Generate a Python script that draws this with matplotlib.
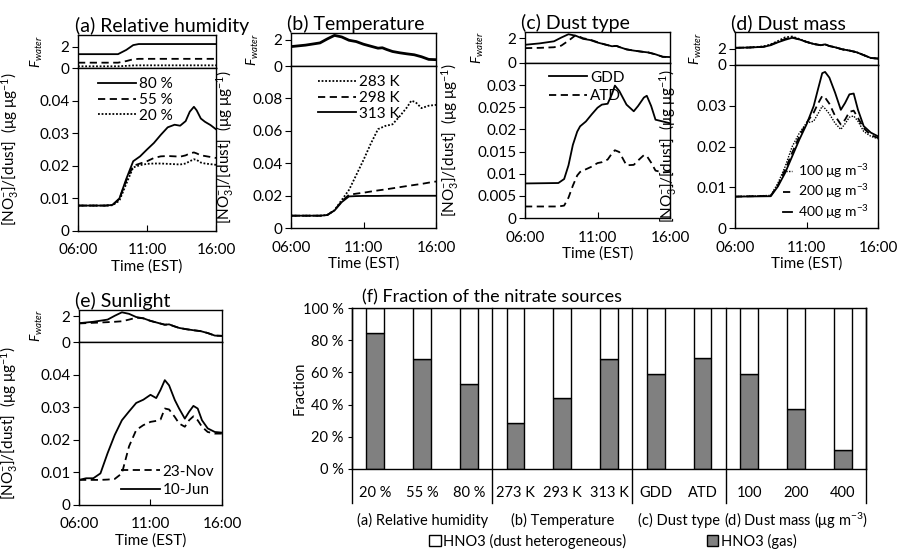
import numpy as np
import matplotlib
matplotlib.use("Agg")
import matplotlib.pyplot as plt
from matplotlib.patches import Patch

plt.rcParams['font.family'] = ['Lato', 'DejaVu Sans']
plt.rcParams['font.size'] = 11
plt.rcParams['mathtext.fontset'] = 'custom'
plt.rcParams['mathtext.rm'] = 'Lato'
plt.rcParams['mathtext.it'] = 'Lato:italic'

W, H = 900, 549

# ---- data ----
# common F_water curve (b, c GDD, e 10-Jun)
t_f = [6, 7, 8, 8.5, 9, 9.5, 10, 10.5, 11, 11.5, 12, 12.3, 12.6, 13, 13.5, 14, 14.5, 15, 15.5, 16]
fw = [1.47, 1.58, 1.75, 2.05, 2.32, 2.2, 1.95, 1.85, 1.65, 1.5, 1.35, 1.38, 1.25, 1.1, 1.0, 0.92, 0.85, 0.7, 0.5, 0.48]
fw_atd = [1.2, 1.22, 1.27, 1.4, 1.8, 2.25, 2.0, 1.88, 1.68, 1.5, 1.35, 1.38, 1.25, 1.1, 1.0, 0.92, 0.85, 0.7, 0.5, 0.48]
fw_nov = [1.45, 1.5, 1.55, 1.58, 1.62, 1.75, 1.9, 1.85, 1.65, 1.5, 1.35, 1.38, 1.25, 1.1, 1.0, 0.92, 0.85, 0.7, 0.5, 0.48]
fw_d400 = [2.08, 2.12, 2.2, 2.4, 2.75, 3.05, 3.3, 3.1, 2.8, 2.55, 2.4, 2.5, 2.3, 2.15, 1.9, 1.75, 1.55, 1.2, 0.85, 0.78]
fw_d200 = [2.08, 2.12, 2.22, 2.45, 2.82, 3.15, 3.35, 3.1, 2.8, 2.55, 2.4, 2.5, 2.3, 2.15, 1.9, 1.75, 1.55, 1.2, 0.85, 0.78]
fw_d100 = [2.08, 2.12, 2.25, 2.5, 2.9, 3.35, 3.45, 3.15, 2.8, 2.55, 2.4, 2.5, 2.3, 2.15, 1.9, 1.75, 1.55, 1.2, 0.85, 0.78]

# (a) relative humidity
t_fa = [6, 8.9, 9.5, 10.0, 10.4, 16]
fw_rh80 = [1.3, 1.3, 1.7, 2.15, 2.25, 2.25]
fw_rh55 = [0.5, 0.5, 0.65, 0.82, 0.86, 0.86]
fw_rh20 = [0.16, 0.16, 0.2, 0.24, 0.25, 0.25]
t_a = [6, 8.0, 8.5, 9.0, 9.5, 10.0, 10.5, 11.0, 11.5, 12.0, 12.5, 13.0, 13.4, 13.8, 14.1, 14.4, 14.6, 14.9, 15.2, 15.6, 16.0]
rh80 = [0.0078, 0.0078, 0.0080, 0.0100, 0.0160, 0.0214, 0.0229, 0.0250, 0.0270, 0.0295, 0.0318, 0.0326, 0.0323, 0.0337, 0.0366, 0.0381, 0.0370, 0.0345, 0.0335, 0.0325, 0.0312]
rh55 = [0.0078, 0.0078, 0.0080, 0.0098, 0.0155, 0.0200, 0.0207, 0.0214, 0.0224, 0.0229, 0.0230, 0.0229, 0.0228, 0.0232, 0.0238, 0.0241, 0.0238, 0.0232, 0.0230, 0.0227, 0.0224]
rh20 = [0.0078, 0.0078, 0.0079, 0.0093, 0.0145, 0.0195, 0.0202, 0.0206, 0.0207, 0.0207, 0.0206, 0.0205, 0.0204, 0.0207, 0.0214, 0.0220, 0.0218, 0.0210, 0.0207, 0.0205, 0.0203]

# (b) temperature
t_b = [6, 8.0, 8.5, 9.0, 9.5, 10.0, 10.5, 11.0, 11.5, 12.0, 12.5, 13.0, 13.5, 14.0, 14.3, 14.6, 15.0, 15.5, 16.0]
k283 = [0.0076, 0.0076, 0.0080, 0.0110, 0.0173, 0.0235, 0.0327, 0.0420, 0.0520, 0.0610, 0.0630, 0.0640, 0.0690, 0.0745, 0.0786, 0.0776, 0.0740, 0.0755, 0.0760]
k298 = [0.0076, 0.0076, 0.0080, 0.0110, 0.0165, 0.0205, 0.0212, 0.0218, 0.0225, 0.0232, 0.0238, 0.0245, 0.0252, 0.0259, 0.0263, 0.0267, 0.0272, 0.0280, 0.0287]
k313 = [0.0076, 0.0076, 0.0080, 0.0108, 0.0160, 0.0195, 0.0197, 0.0198, 0.0198, 0.0198, 0.0199, 0.0199, 0.0199, 0.0199, 0.0199, 0.0199, 0.0199, 0.0199, 0.0199]

# (c) dust type
t_c = [6, 8.3, 8.7, 9.0, 9.3, 9.6, 9.8, 10.2, 10.6, 11.0, 11.3, 11.7, 12.0, 12.2, 12.5, 13.0, 13.5, 13.8, 14.2, 14.4, 14.7, 15.0, 15.5, 16.0]
gdd = [0.0078, 0.0079, 0.0088, 0.0119, 0.0165, 0.0195, 0.0207, 0.0218, 0.0234, 0.0249, 0.0256, 0.0258, 0.0280, 0.0299, 0.0287, 0.0256, 0.0241, 0.0253, 0.0272, 0.0276, 0.0253, 0.0222, 0.0218, 0.0214]
atd = [0.0026, 0.0026, 0.0028, 0.0046, 0.0073, 0.0096, 0.0104, 0.0110, 0.0116, 0.0124, 0.0126, 0.0132, 0.0146, 0.0153, 0.0149, 0.0119, 0.0120, 0.0130, 0.0142, 0.0140, 0.0125, 0.0107, 0.0103, 0.0104]

# (d) dust mass
t_d = [6, 8.5, 9.0, 9.5, 10.0, 10.5, 11.0, 11.5, 11.8, 12.1, 12.3, 12.6, 13.0, 13.4, 13.7, 14.0, 14.3, 14.6, 15.0, 15.5, 16.0]
m400 = [0.0077, 0.0078, 0.0102, 0.0135, 0.0176, 0.0217, 0.0254, 0.0299, 0.0340, 0.0380, 0.0383, 0.0369, 0.0332, 0.0290, 0.0307, 0.0328, 0.0330, 0.0290, 0.0250, 0.0234, 0.0225]
m200 = [0.0077, 0.0079, 0.0105, 0.0142, 0.0185, 0.0225, 0.0258, 0.0283, 0.0305, 0.0324, 0.0320, 0.0305, 0.0275, 0.0254, 0.0266, 0.0285, 0.0288, 0.0270, 0.0245, 0.0228, 0.0221]
m100 = [0.0077, 0.0080, 0.0110, 0.0150, 0.0200, 0.0233, 0.0258, 0.0262, 0.0280, 0.0299, 0.0293, 0.0280, 0.0257, 0.0242, 0.0256, 0.0272, 0.0275, 0.0262, 0.0237, 0.0225, 0.0219]

# (e) sunlight
t_e = [6, 6.5, 7.0, 7.5, 8.0, 8.5, 9.0, 9.5, 10.0, 10.5, 11.0, 11.4, 11.7, 12.0, 12.3, 12.7, 13.0, 13.4, 13.7, 14.0, 14.3, 14.6, 15.0, 15.5, 16.0]
jun = [0.0077, 0.0082, 0.0082, 0.0097, 0.0159, 0.0215, 0.0260, 0.0287, 0.0313, 0.0323, 0.0338, 0.0328, 0.0353, 0.0383, 0.0367, 0.0322, 0.0296, 0.0265, 0.0286, 0.0304, 0.0296, 0.0260, 0.0235, 0.0224, 0.0222]
nov = [0.0077, 0.0077, 0.0077, 0.0077, 0.0078, 0.0080, 0.0097, 0.0180, 0.0230, 0.0245, 0.0255, 0.0258, 0.0262, 0.0296, 0.0293, 0.0270, 0.0250, 0.0240, 0.0260, 0.0272, 0.0260, 0.0240, 0.0224, 0.0219, 0.0219]

# (f) fraction of nitrate sources
bar_labels = ['20 %', '55 %', '80 %', '273 K', '293 K', '313 K', 'GDD', 'ATD', '100', '200', '400']
gas_frac = [84.5, 68.5, 53, 28.5, 44, 68.5, 59, 69, 59, 37, 12]
group_labels = ['(a) Relative humidity', '(b) Temperature', '(c) Dust type', '(d) Dust mass (μg m$^{-3}$)']
group_sizes = [3, 3, 2, 3]

SOLID = '-'
DASH = (0, (4, 2.5))
DOT = (0, (1, 1))
LW = 1.3
TICK = 11

fig = plt.figure(figsize=(9, 5.49), dpi=100)


def add_px(x0, y0, x1, y1):
    return fig.add_axes([x0 / W, 1 - y1 / H, (x1 - x0) / W, (y1 - y0) / H])


def fmt(v):
    return ('%.3f' % v).rstrip('0').rstrip('.')


def panel(x0, x1, ytop, ymid, ybot, title, fmax, ymax, yticks, lablx):
    axf = add_px(x0, ytop, x1, ymid)
    ax = add_px(x0, ymid, x1, ybot)
    axf.set_xlim(6, 16)
    axf.set_ylim(0, fmax)
    axf.set_xticks([])
    axf.set_yticks([0, 2])
    axf.tick_params(axis='y', direction='out', length=4, labelsize=TICK, pad=2)
    axf.set_ylabel('$F_{water}$', fontsize=10)
    axf.yaxis.set_label_coords(lablx + 0.17, 0.5)
    axf.set_title(title, loc='left', fontsize=14, pad=1, x=-0.025)
    ax.set_xlim(6, 16)
    ax.set_ylim(0, ymax)
    ax.set_yticks(yticks)
    ax.set_yticklabels([fmt(v) for v in yticks])
    ax.set_xticks([6, 11, 16])
    ax.set_xticklabels(['06:00', '11:00', '16:00'])
    ax.tick_params(axis='x', direction='in', length=4, labelsize=TICK, pad=9)
    ax.tick_params(axis='y', direction='out', length=4, labelsize=TICK, pad=2)
    ax.set_xlabel('Time (EST)', fontsize=11, labelpad=1)
    ax.set_ylabel('[NO$_3^{-}$]/[dust]  (μg μg$^{-1}$)', fontsize=11)
    ax.yaxis.set_label_coords(lablx, 0.5)
    for a in (axf, ax):
        for s in a.spines.values():
            s.set_linewidth(1.0)
    return axf, ax


leg_kw = dict(frameon=False, handletextpad=0.2, labelspacing=0.12, fontsize=11)

# (a)
axf, ax = panel(78, 216, 35, 68, 231, '(a) Relative humidity', 3.1, 0.05, [0, 0.01, 0.02, 0.03, 0.04], -0.41)
axf.plot(t_fa, fw_rh80, color='k', ls=SOLID, lw=LW)
axf.plot(t_fa, fw_rh55, color='k', ls=DASH, lw=LW)
axf.plot(t_fa, fw_rh20, color='k', ls=DOT, lw=LW)
ax.plot(t_a, rh80, color='k', ls=SOLID, lw=LW, label='80 %')
ax.plot(t_a, rh55, color='k', ls=DASH, lw=LW, label='55 %')
ax.plot(t_a, rh20, color='k', ls=DOT, lw=LW, label='20 %')
ax.legend(loc='upper left', bbox_to_anchor=(0.08, 1.0), handlelength=2.5, borderaxespad=0.2, **leg_kw)

# (b)
axf, ax = panel(291, 436, 33, 66, 228, '(b) Temperature', 2.5, 0.1, [0, 0.02, 0.04, 0.06, 0.08], -0.38)
axf.plot(t_f, fw, color='k', lw=2)
ax.plot(t_b, k283, color='k', ls=DOT, lw=LW, label='283 K')
ax.plot(t_b, k298, color='k', ls=DASH, lw=LW, label='298 K')
ax.plot(t_b, k313, color='k', ls=SOLID, lw=LW, label='313 K')
ax.legend(loc='upper left', bbox_to_anchor=(0.12, 1.0), handlelength=2.5, borderaxespad=0.2, **leg_kw)

# (c)
axf, ax = panel(525, 670, 32, 63, 218, '(c) Dust type', 2.5, 0.035,
                [0, 0.005, 0.01, 0.015, 0.02, 0.025, 0.03], -0.44)
axf.plot(t_f, fw, color='k', ls=SOLID, lw=LW)
axf.plot(t_f, fw_atd, color='k', ls=DASH, lw=LW)
ax.plot(t_c, gdd, color='k', ls=SOLID, lw=LW, label='GDD')
ax.plot(t_c, atd, color='k', ls=DASH, lw=LW, label='ATD')
ax.legend(loc='upper left', bbox_to_anchor=(0.11, 1.0), handlelength=2.5, borderaxespad=0.1,
          frameon=False, handletextpad=0.2, labelspacing=0.3, fontsize=11)

# (d)
axf, ax = panel(735, 878, 32, 65, 228, '(d) Dust mass', 4.0, 0.04, [0, 0.01, 0.02, 0.03], -0.39)
axf.plot(t_f, fw_d100, color='k', ls=DOT, lw=LW)
axf.plot(t_f, fw_d200, color='k', ls=DASH, lw=LW)
axf.plot(t_f, fw_d400, color='k', ls=SOLID, lw=LW)
ax.plot(t_d, m100, color='k', ls=DOT, lw=1.0, label='100 μg m$^{-3}$')
ax.plot(t_d, m200, color='k', ls=DASH, lw=LW, label='200 μg m$^{-3}$')
ax.plot(t_d, m400, color='k', ls=SOLID, lw=LW, label='400 μg m$^{-3}$')
ax.legend(loc='lower right', bbox_to_anchor=(0.985, 0.0), handlelength=0.7, borderaxespad=0.1,
          frameon=False, handletextpad=0.4, labelspacing=0.2, fontsize=10)

# (e)
axf, ax = panel(79, 222, 310, 342, 505, '(e) Sunlight', 2.5, 0.05, [0, 0.01, 0.02, 0.03, 0.04], -0.41)
axf.plot(t_f, fw, color='k', ls=SOLID, lw=LW)
axf.plot(t_f, fw_nov, color='k', ls=DASH, lw=LW)
ax.plot(t_e, nov, color='k', ls=DASH, lw=LW, label='23-Nov')
ax.plot(t_e, jun, color='k', ls=SOLID, lw=LW, label='10-Jun')
ax.legend(loc='lower right', bbox_to_anchor=(1.0, 0.0), handlelength=2.5, borderaxespad=0.1,
          frameon=False, handletextpad=0.2, labelspacing=0.3, fontsize=11)

# (f) bars
axb = add_px(352, 308, 866, 469)
x = np.arange(len(bar_labels))
gas = np.array(gas_frac)
axb.bar(x, gas, width=0.38, color='#808080', edgecolor='k', linewidth=1.0)
axb.bar(x, 100 - gas, bottom=gas, width=0.38, color='white', edgecolor='k', linewidth=1.0)
axb.set_xlim(-0.5, len(bar_labels) - 0.5)
axb.set_ylim(0, 100)
axb.set_yticks([0, 20, 40, 60, 80, 100])
axb.set_yticklabels(['0 %', '20 %', '40 %', '60 %', '80 %', '100 %'])
axb.tick_params(axis='y', direction='out', length=3, labelsize=10.5, pad=3)
axb.set_xticks(x)
axb.set_xticklabels(bar_labels)
axb.tick_params(axis='x', length=0, labelsize=10.5, pad=12)
axb.set_ylabel('Fraction', fontsize=10.5)
axb.yaxis.set_label_coords(-0.088, 0.5)
axb.set_title('(f) Fraction of the nitrate sources', loc='left', fontsize=13, pad=4, x=0.02)
low = -(503 - 469) / 161
edges = np.cumsum([0] + group_sizes) - 0.5
for e in edges:
    axb.plot([e, e], [low * 100, 100], color='k', lw=1.0, clip_on=False)
for i, g in enumerate(group_labels):
    c = (edges[i] + edges[i + 1]) / 2
    axb.text(c, -0.32 * 100, g, ha='center', va='center', fontsize=10.5)
for s in axb.spines.values():
    s.set_linewidth(1.0)

handles = [Patch(facecolor='white', edgecolor='k', label='HNO3 (dust heterogeneous)'),
           Patch(facecolor='#808080', edgecolor='k', label='HNO3 (gas)')]
fig.legend(handles=handles, loc='center', bbox_to_anchor=(613 / W, 1 - 541 / H), ncol=2,
           frameon=False, handlelength=0.8, handleheight=0.8, handletextpad=0.2,
           columnspacing=5.5, fontsize=10.5)

fig.savefig('out.png', dpi=100)
